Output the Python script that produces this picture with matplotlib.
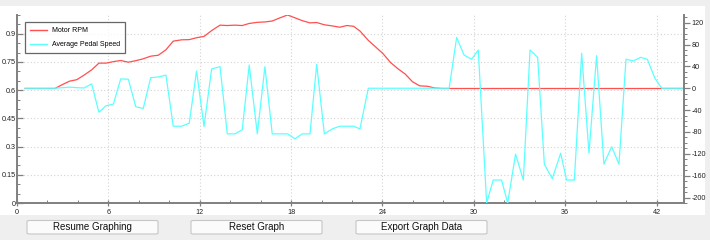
import matplotlib
matplotlib.use("Agg")
import matplotlib.pyplot as plt
from matplotlib.patches import Rectangle, FancyBboxPatch
from matplotlib.ticker import MultipleLocator

plt.rcParams['axes.unicode_minus'] = False
plt.rcParams['font.family'] = ['Liberation Sans', 'DejaVu Sans']

# sample times (s)
times = [0.53, 1.02, 1.51, 2.00, 2.49, 2.98, 3.45, 3.93, 4.40, 4.90,
         5.38, 5.85, 6.33, 6.81, 7.31, 7.80, 8.29, 8.78, 9.28, 9.78,
         10.26, 10.81, 11.31, 11.79, 12.28, 12.78, 13.33, 13.81, 14.31, 14.79,
         15.25, 15.78, 16.28, 16.76, 17.27, 17.77, 18.25, 18.73, 19.24, 19.68,
         20.18, 20.70, 21.20, 21.66, 22.10, 22.52, 23.07, 23.55, 24.04, 24.52,
         25.00, 25.49, 25.97, 26.45, 26.94, 27.42, 27.90, 28.38, 28.87, 29.35,
         29.85, 30.29, 30.84, 31.27, 31.82, 32.22, 32.74, 33.25, 33.69, 34.19,
         34.63, 35.15, 35.70, 36.09, 36.60, 37.08, 37.56, 38.06, 38.54, 39.05,
         39.53, 39.99, 40.47, 40.95, 41.39, 41.89, 42.33, 42.82, 43.31, 43.80]

# left axis
motor_rpm = [0.609, 0.609, 0.609, 0.609, 0.609, 0.630, 0.648, 0.656, 0.680, 0.708,
             0.744, 0.744, 0.752, 0.758, 0.749, 0.757, 0.767, 0.781, 0.786, 0.815,
             0.861, 0.868, 0.869, 0.879, 0.886, 0.917, 0.946, 0.944, 0.946, 0.944,
             0.955, 0.961, 0.963, 0.968, 0.985, 1.000, 0.985, 0.970, 0.958, 0.960,
             0.948, 0.942, 0.935, 0.944, 0.940, 0.915, 0.865, 0.830, 0.794, 0.748,
             0.715, 0.686, 0.645, 0.623, 0.621, 0.612, 0.609, 0.609, 0.609, 0.609,
             0.609, 0.609, 0.609, 0.609, 0.609, 0.609, 0.609, 0.609, 0.609, 0.609,
             0.609, 0.609, 0.609, 0.609, 0.609, 0.609, 0.609, 0.609, 0.609, 0.609,
             0.609, 0.609, 0.609, 0.609, 0.609, 0.609, 0.609, 0.609, 0.609, 0.609]

# right axis
pedal_speed = [0, 0, 0, 0, 0, 1, 2, 1, 0.5, 8,
               -44, -32, -29, 17, 16.5, -34, -37, 19.4, 20.6, 24,
               -69.5, -69.5, -64, 31.6, -70, 35.3, 39.5, -83.5, -83.5, -76,
               42.6, -83.5, 39.5, -83.5, -83.5, -83.5, -92.5, -83.5, -83.5, 43.8,
               -83.5, -74.4, -69.5, -69.5, -69.5, -74.4, 0, 0, 0, 0,
               0, 0, 0, 0, 0, 0, 0, 0, 93, 61,
               53, 70, -210, -168, -168, -210, -120.6, -168, 70, 56.6,
               -139, -165.5, -118.8, -168, -168, 64, -118.8, 59.6, -139, -107,
               -139, 53, 50, 56.6, 53, 18.3, 0, 0, 0, 0]

buttons = ["Resume Graphing", "Reset Graph", "Export Graph Data"]
button_x = [27, 191, 356]   # left edge, px

W, H = 710, 240
RED = '#ff4f4f'
CYAN = '#5cffff'
AXC = '#808080'

fig = plt.figure(figsize=(W / 100, H / 100), dpi=100, facecolor='#efefef')
fig.patches.append(Rectangle((0, 1 - 215 / H), 705 / W, 209 / H,
                             transform=fig.transFigure, fc='white', ec='none', zorder=-5))

ax = fig.add_axes([17 / W, 1 - 203 / H, 667 / W, 188 / H])
ax2 = ax.twinx()

l1, = ax.plot(times, motor_rpm, color=RED, lw=0.9, label="Motor RPM")
l2, = ax2.plot(times, pedal_speed, color=CYAN, lw=0.9, label="Average Pedal Speed")

ax.set_xlim(0, times[-1])
ax.set_ylim(0, 1.0)
ax2.set_ylim(-210, 134)

ax.xaxis.set_major_locator(MultipleLocator(6))
ax.xaxis.set_minor_locator(MultipleLocator(2))
ax.yaxis.set_minor_locator(MultipleLocator(0.05))
ax2.yaxis.set_major_locator(MultipleLocator(40))
ax2.yaxis.set_minor_locator(MultipleLocator(10))
ax.set_yticks([0, 0.15, 0.3, 0.45, 0.6, 0.75, 0.9])
ax.set_yticklabels(["0", "0.15", "0.3", "0.45", "0.6", "0.75", "0.9"])

ax.grid(True, which='major', color='#d4d4d4', ls=(0, (1, 2)), lw=0.8)

for a in (ax, ax2):
    a.spines['top'].set_visible(False)
    for s in ('left', 'right', 'bottom'):
        a.spines[s].set_color(AXC)
        a.spines[s].set_linewidth(1.4)
    a.tick_params(which='major', length=4, width=0.9, color=AXC,
                  labelsize=5.2, labelcolor='#222222', pad=1.5)
    a.tick_params(which='minor', length=2, width=0.7, color=AXC)
ax.tick_params(axis='y', which='both', direction='in', pad=1)
ax.tick_params(axis='x', which='major', direction='inout', length=5)
ax.tick_params(axis='x', which='minor', direction='in')
ax.spines['right'].set_visible(False)
ax2.spines['left'].set_visible(False)
ax2.spines['bottom'].set_visible(False)
ax.set_facecolor('none')
ax2.set_facecolor('none')

leg = ax2.legend(handles=[l1, l2], loc='upper left',
                 bbox_to_anchor=(25 / W, 1 - 22 / H), bbox_transform=fig.transFigure,
                 fontsize=5.0, frameon=True, fancybox=False, borderaxespad=0,
                 handlelength=2.4, handletextpad=0.7, labelspacing=1.0,
                 borderpad=0.75)
leg.get_frame().set_edgecolor('#404040')
leg.get_frame().set_linewidth(0.9)
for h in leg.legend_handles:
    h.set_linewidth(1.0)

for name, x0 in zip(buttons, button_x):
    fig.patches.append(FancyBboxPatch((x0 / W, 1 - 234 / H), 131 / W, 13.5 / H,
                                      boxstyle='round,pad=0,rounding_size=0.004',
                                      transform=fig.transFigure, fc='#fbfbfb',
                                      ec='#c6c6c6', lw=0.8))
    fig.text((x0 + 65.5) / W, 1 - 227.2 / H, name, ha='center', va='center',
             fontsize=7.0, color='#111111')

fig.savefig("out.png", dpi=100, facecolor=fig.get_facecolor())
plt.close()
